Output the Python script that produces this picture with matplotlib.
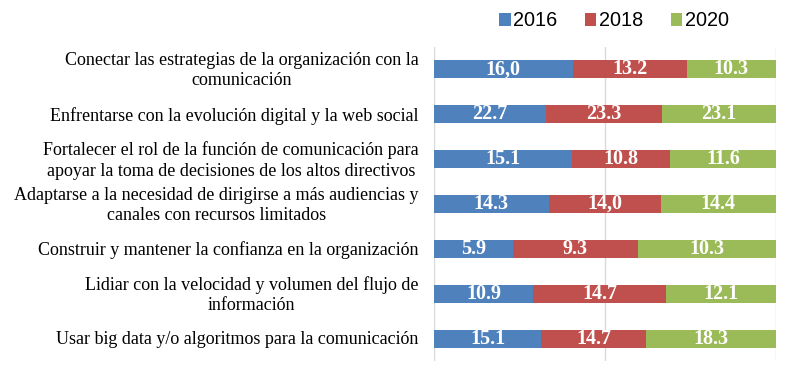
import matplotlib.pyplot as plt
import numpy as np

categories = [
    "Conectar las estrategias de la organización con la\ncomunicación",
    "Enfrentarse con la evolución digital y la web social",
    "Fortalecer el rol de la función de comunicación para\napoyar la toma de decisiones de los altos directivos",
    "Adaptarse a la necesidad de dirigirse a más audiencias y\ncanales con recursos limitados",
    "Construir y mantener la confianza en la organización",
    "Lidiar con la velocidad y volumen del flujo de\ninformación",
    "Usar big data y/o algoritmos para la comunicación",
]
years = ["2016", "2018", "2020"]
v2016 = [16.0, 22.7, 15.1, 14.3, 5.9, 10.9, 15.1]
v2018 = [13.2, 23.3, 10.8, 14.0, 9.3, 14.7, 14.7]
v2020 = [10.3, 23.1, 11.6, 14.4, 10.3, 12.1, 18.3]
# labels as printed in the source (some use a decimal comma)
lab2016 = ["16,0", "22.7", "15.1", "14.3", "5.9", "10.9", "15.1"]
lab2018 = ["13.2", "23.3", "10.8", "14,0", "9.3", "14.7", "14.7"]
lab2020 = ["10.3", "23.1", "11.6", "14.4", "10.3", "12.1", "18.3"]

colors = ["#4F81BD", "#C0504D", "#9BBB59"]

data = np.array([v2016, v2018, v2020])
labels = [lab2016, lab2018, lab2020]
shares = data / data.sum(axis=0)

fig = plt.figure(figsize=(7.98, 3.84), dpi=100)
ax = fig.add_axes([434 / 798, 1 - 361 / 384, 342 / 798, 314 / 384])

y = np.arange(len(categories))
left = np.zeros(len(categories))
for i in range(3):
    ax.barh(y, shares[i], left=left, height=0.4, color=colors[i], label=years[i], zorder=2)
    for j in range(len(categories)):
        ax.text(left[j] + shares[i][j] / 2, y[j], labels[i][j], ha="center", va="center",
                color="white", fontweight="bold", fontsize=14.5, family="Liberation Serif", zorder=3)
    left += shares[i]

ax.set_xlim(0, 1)
ax.set_ylim(-0.5, len(categories) - 0.5)
ax.invert_yaxis()
ax.set_xticks([0, 0.5, 1])
ax.set_xticklabels([])
ax.grid(axis="x", color="#D9D9D9", linewidth=1, zorder=0)
ax.tick_params(length=0)
ax.set_yticks(y)
ax.set_yticklabels([])
for s in ax.spines.values():
    s.set_visible(False)

for j, cat in enumerate(categories):
    ax.text(-0.045, y[j] + 0.03, cat, ha="right", va="center", multialignment="center",
            fontsize=13, family="Liberation Serif", linespacing=1.25,
            transform=ax.get_yaxis_transform())

ax.legend(loc="center", bbox_to_anchor=(614 / 798, 1 - 21 / 384), bbox_transform=fig.transFigure,
          ncol=3, frameon=False, prop={"family": "Liberation Sans", "size": 14.3},
          handlelength=0.6, handleheight=0.6, handletextpad=0.15, columnspacing=1.35)

fig.savefig("out.png", dpi=100)
